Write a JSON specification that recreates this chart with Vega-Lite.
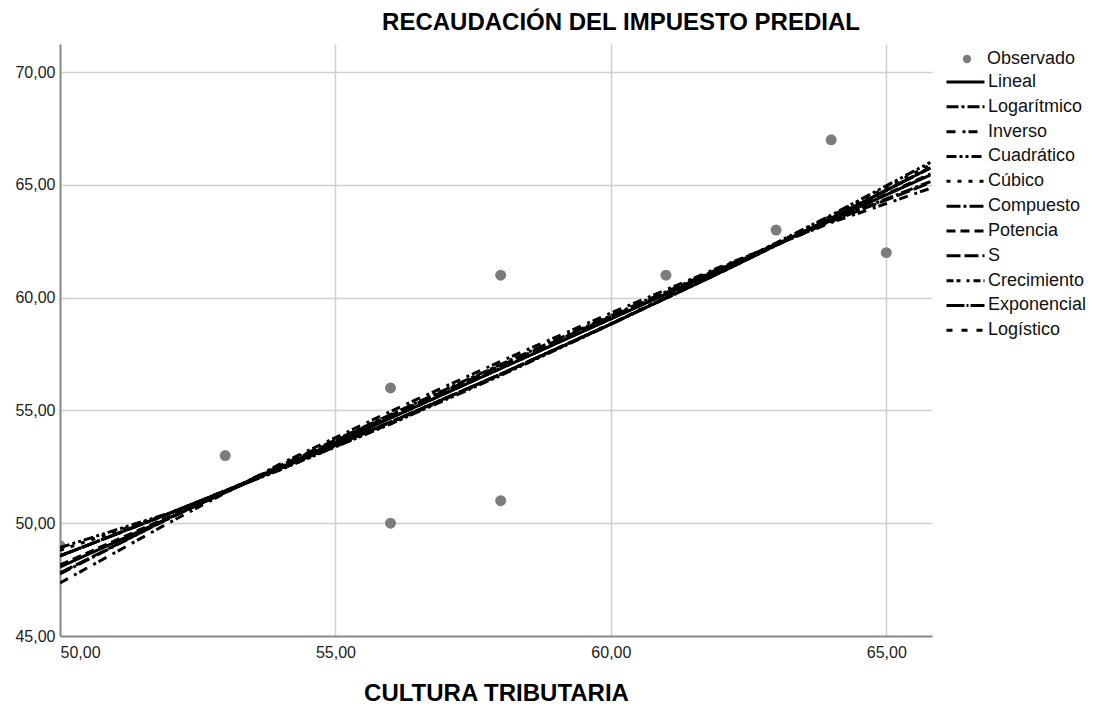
{
  "$schema": "https://vega.github.io/schema/vega-lite/v6.json",
  "width": 872,
  "height": 592,
  "autosize": {"type": "none"},
  "padding": {"left": 60, "top": 44, "right": 168, "bottom": 70},
  "background": "white",
  "config": {
    "font": "Liberation Sans",
    "view": {"stroke": null},
    "axis": {
      "grid": true,
      "gridColor": "#d0d0d0",
      "gridWidth": 1.5,
      "domainColor": "#8c8c8c",
      "domainWidth": 2,
      "ticks": false,
      "labelFont": "Liberation Sans",
      "labelFontSize": 16,
      "labelColor": "#222222",
      "titleFont": "Liberation Sans",
      "titleFontWeight": "bold",
      "titleColor": "#000000"
    },
    "legend": {
      "labelFont": "Liberation Sans",
      "labelFontSize": 18,
      "labelColor": "#111111",
      "padding": 0
    }
  },
  "title": {
    "text": "RECAUDACIÓN DEL IMPUESTO PREDIAL",
    "font": "Liberation Sans",
    "fontSize": 24,
    "fontWeight": "bold",
    "color": "#000000",
    "anchor": "middle",
    "dx": 125,
    "offset": 9
  },
  "datasets": {
    "obs": [
      {"serie": "Observado", "x": 50, "y": 49},
      {"serie": "Observado", "x": 53, "y": 53},
      {"serie": "Observado", "x": 56, "y": 56},
      {"serie": "Observado", "x": 56, "y": 50},
      {"serie": "Observado", "x": 58, "y": 61},
      {"serie": "Observado", "x": 58, "y": 51},
      {"serie": "Observado", "x": 61, "y": 61},
      {"serie": "Observado", "x": 63, "y": 63},
      {"serie": "Observado", "x": 64, "y": 67},
      {"serie": "Observado", "x": 65, "y": 62}
    ],
    "fits": [
      {"modelo": "Lineal", "x": 50, "y": 48.06},
      {"modelo": "Lineal", "x": 52, "y": 50.26},
      {"modelo": "Lineal", "x": 54, "y": 52.46},
      {"modelo": "Lineal", "x": 56, "y": 54.66},
      {"modelo": "Lineal", "x": 58, "y": 56.86},
      {"modelo": "Lineal", "x": 60, "y": 59.06},
      {"modelo": "Lineal", "x": 62, "y": 61.26},
      {"modelo": "Lineal", "x": 64, "y": 63.46},
      {"modelo": "Lineal", "x": 65.8, "y": 65.44},
      {"modelo": "Logarítmico", "x": 50, "y": 47.75},
      {"modelo": "Logarítmico", "x": 52, "y": 50.25},
      {"modelo": "Logarítmico", "x": 54, "y": 52.56},
      {"modelo": "Logarítmico", "x": 56, "y": 54.82},
      {"modelo": "Logarítmico", "x": 58, "y": 57.04},
      {"modelo": "Logarítmico", "x": 60, "y": 59.20},
      {"modelo": "Logarítmico", "x": 62, "y": 61.33},
      {"modelo": "Logarítmico", "x": 64, "y": 63.42},
      {"modelo": "Logarítmico", "x": 65.8, "y": 65.15},
      {"modelo": "Inverso", "x": 50, "y": 47.35},
      {"modelo": "Inverso", "x": 52, "y": 50.05},
      {"modelo": "Inverso", "x": 54, "y": 52.63},
      {"modelo": "Inverso", "x": 56, "y": 54.96},
      {"modelo": "Inverso", "x": 58, "y": 57.18},
      {"modelo": "Inverso", "x": 60, "y": 59.32},
      {"modelo": "Inverso", "x": 62, "y": 61.38},
      {"modelo": "Inverso", "x": 64, "y": 63.33},
      {"modelo": "Inverso", "x": 65.8, "y": 64.85},
      {"modelo": "Cuadrático", "x": 50, "y": 48.92},
      {"modelo": "Cuadrático", "x": 52, "y": 50.46},
      {"modelo": "Cuadrático", "x": 54, "y": 52.37},
      {"modelo": "Cuadrático", "x": 56, "y": 54.40},
      {"modelo": "Cuadrático", "x": 58, "y": 56.55},
      {"modelo": "Cuadrático", "x": 60, "y": 58.82},
      {"modelo": "Cuadrático", "x": 62, "y": 61.20},
      {"modelo": "Cuadrático", "x": 64, "y": 63.66},
      {"modelo": "Cuadrático", "x": 65.8, "y": 66.0},
      {"modelo": "Cúbico", "x": 50, "y": 48.80},
      {"modelo": "Cúbico", "x": 52, "y": 50.45},
      {"modelo": "Cúbico", "x": 54, "y": 52.38},
      {"modelo": "Cúbico", "x": 56, "y": 54.42},
      {"modelo": "Cúbico", "x": 58, "y": 56.60},
      {"modelo": "Cúbico", "x": 60, "y": 58.85},
      {"modelo": "Cúbico", "x": 62, "y": 61.20},
      {"modelo": "Cúbico", "x": 64, "y": 63.62},
      {"modelo": "Cúbico", "x": 65.8, "y": 65.90},
      {"modelo": "Compuesto", "x": 50, "y": 48.55},
      {"modelo": "Compuesto", "x": 52, "y": 50.45},
      {"modelo": "Compuesto", "x": 54, "y": 52.43},
      {"modelo": "Compuesto", "x": 56, "y": 54.48},
      {"modelo": "Compuesto", "x": 58, "y": 56.61},
      {"modelo": "Compuesto", "x": 60, "y": 58.83},
      {"modelo": "Compuesto", "x": 62, "y": 61.13},
      {"modelo": "Compuesto", "x": 64, "y": 63.52},
      {"modelo": "Compuesto", "x": 65.8, "y": 65.76},
      {"modelo": "Potencia", "x": 50, "y": 48.15},
      {"modelo": "Potencia", "x": 52, "y": 50.31},
      {"modelo": "Potencia", "x": 54, "y": 52.49},
      {"modelo": "Potencia", "x": 56, "y": 54.67},
      {"modelo": "Potencia", "x": 58, "y": 56.86},
      {"modelo": "Potencia", "x": 60, "y": 59.06},
      {"modelo": "Potencia", "x": 62, "y": 61.27},
      {"modelo": "Potencia", "x": 64, "y": 63.48},
      {"modelo": "Potencia", "x": 65.8, "y": 65.49},
      {"modelo": "S", "x": 50, "y": 47.80},
      {"modelo": "S", "x": 52, "y": 50.24},
      {"modelo": "S", "x": 54, "y": 52.53},
      {"modelo": "S", "x": 56, "y": 54.78},
      {"modelo": "S", "x": 58, "y": 56.99},
      {"modelo": "S", "x": 60, "y": 59.16},
      {"modelo": "S", "x": 62, "y": 61.29},
      {"modelo": "S", "x": 64, "y": 63.38},
      {"modelo": "S", "x": 65.8, "y": 65.10},
      {"modelo": "Crecimiento", "x": 50, "y": 48.55},
      {"modelo": "Crecimiento", "x": 52, "y": 50.45},
      {"modelo": "Crecimiento", "x": 54, "y": 52.43},
      {"modelo": "Crecimiento", "x": 56, "y": 54.48},
      {"modelo": "Crecimiento", "x": 58, "y": 56.61},
      {"modelo": "Crecimiento", "x": 60, "y": 58.83},
      {"modelo": "Crecimiento", "x": 62, "y": 61.13},
      {"modelo": "Crecimiento", "x": 64, "y": 63.52},
      {"modelo": "Crecimiento", "x": 65.8, "y": 65.76},
      {"modelo": "Exponencial", "x": 50, "y": 48.55},
      {"modelo": "Exponencial", "x": 52, "y": 50.45},
      {"modelo": "Exponencial", "x": 54, "y": 52.43},
      {"modelo": "Exponencial", "x": 56, "y": 54.48},
      {"modelo": "Exponencial", "x": 58, "y": 56.61},
      {"modelo": "Exponencial", "x": 60, "y": 58.83},
      {"modelo": "Exponencial", "x": 62, "y": 61.13},
      {"modelo": "Exponencial", "x": 64, "y": 63.52},
      {"modelo": "Exponencial", "x": 65.8, "y": 65.76},
      {"modelo": "Logístico", "x": 50, "y": 48.55},
      {"modelo": "Logístico", "x": 52, "y": 50.45},
      {"modelo": "Logístico", "x": 54, "y": 52.43},
      {"modelo": "Logístico", "x": 56, "y": 54.48},
      {"modelo": "Logístico", "x": 58, "y": 56.61},
      {"modelo": "Logístico", "x": 60, "y": 58.83},
      {"modelo": "Logístico", "x": 62, "y": 61.13},
      {"modelo": "Logístico", "x": 64, "y": 63.52},
      {"modelo": "Logístico", "x": 65.8, "y": 65.76}
    ]
  },
  "encoding": {
    "x": {
      "field": "x",
      "type": "quantitative",
      "scale": {"domain": [50, 65.83], "nice": false, "zero": false},
      "axis": {
        "values": [50, 55, 60, 65],
        "labelExpr": "replace(format(datum.value, '.2f'), '.', ',')",
        "labelPadding": 8,
        "title": "CULTURA TRIBUTARIA",
        "titleFontSize": 24,
        "titlePadding": 21
      }
    },
    "y": {
      "field": "y",
      "type": "quantitative",
      "scale": {"domain": [45, 71.25], "nice": false, "zero": false},
      "axis": {
        "values": [45, 50, 55, 60, 65, 70],
        "labelExpr": "replace(format(datum.value, '.2f'), '.', ',')",
        "labelPadding": 5,
        "title": null
      }
    }
  },
  "layer": [
    {
      "data": {"name": "obs"},
      "mark": {"type": "point", "filled": true, "size": 120, "opacity": 1, "clip": true},
      "encoding": {
        "color": {
          "field": "serie",
          "type": "nominal",
          "scale": {"domain": ["Observado"], "range": ["#7c7c7c"]},
          "legend": {
            "title": null,
            "orient": "none",
            "legendX": 898,
            "legendY": 5,
            "symbolType": "circle",
            "symbolSize": 70,
            "clipHeight": 20,
            "labelOffset": 11,
            "symbolOpacity": 1
          }
        }
      }
    },
    {
      "data": {"name": "fits"},
      "mark": {"type": "line", "color": "#000000", "strokeWidth": 3, "clip": true},
      "encoding": {
        "detail": {"field": "modelo", "type": "nominal"},
        "strokeDash": {
          "field": "modelo",
          "type": "nominal",
          "scale": {
            "domain": ["Lineal", "Logarítmico", "Inverso", "Cuadrático", "Cúbico", "Compuesto", "Potencia", "S", "Crecimiento", "Exponencial", "Logístico"],
            "range": [[1, 0], [12, 3, 3, 3], [9, 7, 3, 3], [10, 3, 3, 3, 3, 3], [4, 7], [14, 3, 3, 3], [9, 5], [14, 4], [7, 3, 4, 6, 3, 4], [18, 2, 2, 2], [6, 9]]
          },
          "legend": {
            "title": null,
            "orient": "none",
            "legendX": 885,
            "legendY": 28,
            "symbolType": "stroke",
            "symbolSize": 1444,
            "symbolStrokeColor": "#000000",
            "symbolStrokeWidth": 3,
            "clipHeight": 20,
            "rowPadding": 4.83,
            "labelOffset": 2
          }
        }
      }
    }
  ]
}
